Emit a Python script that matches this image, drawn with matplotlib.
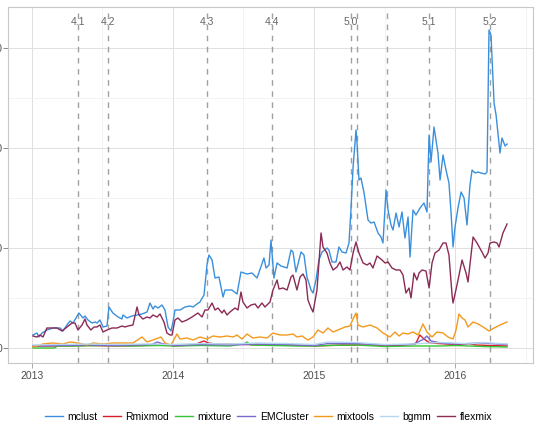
import numpy as np
import matplotlib
matplotlib.use("Agg")
import matplotlib.pyplot as plt
from matplotlib.ticker import MultipleLocator

plt.rcParams['font.family'] = ['Liberation Sans', 'DejaVu Sans']

BASE_YEAR = 2013

# ---- data (time = years since 2013-01-01, values = weekly downloads) ----
mclust_t = [0.007,0.035,0.050,0.071,0.106,0.149,0.199,0.220,0.248,0.270,0.291,0.333,0.362,0.376,0.397,0.426,0.447,0.461,0.482,0.504,
            0.532,0.546,0.574,0.610,0.638,0.645,0.674,0.709,0.745,0.780,0.816,0.837,0.858,0.872,0.894,0.922,0.943,0.965,0.986,1.000,
            1.014,1.050,1.085,1.121,1.142,1.170,1.191,1.220,1.241,1.255,1.277,1.298,1.326,1.355,1.369,1.418,1.454,1.482,1.525,1.560,
            1.596,1.645,1.660,1.681,1.695,1.716,1.738,1.766,1.809,1.837,1.851,1.872,1.908,1.929,1.950,1.979,1.993,2.014,2.035,2.057,
            2.092,2.106,2.128,2.156,2.177,2.199,2.227,2.248,2.262,2.277,2.298,2.305,2.319,2.333,2.355,2.383,2.404,2.426,2.454,2.475,
            2.489,2.511,2.525,2.546,2.560,2.582,2.603,2.624,2.645,2.667,2.681,2.702,2.723,2.752,2.780,2.801,2.816,2.830,2.851,2.879,
            2.894,2.915,2.936,2.957,2.972,2.986,3.000,3.021,3.043,3.064,3.085,3.106,3.121,3.142,3.163,3.184,3.213,3.227,3.241,3.255,
            3.277,3.291,3.319,3.333,3.355,3.369]
mclust_v = [130,150,110,150,180,200,200,170,230,270,250,350,300,320,280,250,260,250,280,210,
            220,410,350,310,290,330,300,320,330,340,360,450,390,420,400,430,380,210,170,260,
            380,380,410,420,410,440,460,530,830,930,880,700,710,510,580,580,540,760,740,750,
            700,900,800,830,1080,700,850,820,800,980,960,760,960,930,710,580,550,680,880,960,
            1000,980,860,860,1010,960,950,1050,1380,1810,2180,2050,1680,1700,1550,1280,1250,1260,1150,1110,
            1050,1580,1380,1230,1180,1350,1210,1360,1100,1310,910,1380,1330,1400,1450,1360,2130,1860,2210,1950,
            1680,1930,1780,1650,1350,1010,1210,1400,1560,1500,1230,1630,1780,1750,1760,1750,1740,1760,3180,3130,
            2450,2330,1950,2100,2020,2040]

flexmix_t = [0.007,0.035,0.057,0.078,0.106,0.142,0.177,0.213,0.248,0.284,0.305,0.326,0.355,0.376,0.390,0.418,0.440,0.461,0.482,0.504,
             0.532,0.567,0.603,0.638,0.660,0.681,0.716,0.745,0.759,0.787,0.816,0.837,0.858,0.887,0.908,0.936,0.957,0.979,0.993,1.014,
             1.035,1.064,1.099,1.135,1.156,1.177,1.206,1.227,1.248,1.277,1.298,1.319,1.348,1.362,1.383,1.404,1.440,1.461,1.482,1.496,
             1.525,1.553,1.582,1.603,1.631,1.652,1.688,1.709,1.738,1.752,1.780,1.809,1.837,1.851,1.879,1.901,1.922,1.943,1.957,1.979,
             1.993,2.021,2.050,2.064,2.092,2.113,2.135,2.163,2.184,2.206,2.234,2.255,2.277,2.298,2.319,2.348,2.376,2.397,2.418,2.447,
             2.482,2.504,2.525,2.553,2.582,2.610,2.631,2.652,2.674,2.688,2.709,2.730,2.745,2.766,2.794,2.816,2.837,2.858,2.887,2.915,
             2.936,2.957,2.979,2.986,3.014,3.050,3.078,3.092,3.128,3.156,3.191,3.213,3.234,3.248,3.277,3.298,3.312,3.340,3.369]
flexmix_v = [120,110,130,110,200,200,200,170,210,250,250,180,230,290,230,180,210,210,230,160,
             180,200,200,220,210,220,230,410,330,290,310,300,330,310,340,260,150,130,130,280,
             300,260,280,310,330,350,310,380,380,450,380,400,350,380,330,360,400,380,560,460,
             400,430,440,400,450,410,460,580,680,590,600,580,710,730,580,710,740,680,480,400,
             360,580,1150,1010,950,850,780,810,860,780,810,780,950,1060,950,850,830,850,800,920,
             880,850,860,800,780,780,730,550,600,500,750,680,750,780,770,600,850,950,980,1050,
             1050,930,530,450,630,880,750,660,1110,1050,960,900,950,1050,1060,1050,1010,1150,1240]

mixtools_t = [0.007,0.078,0.149,0.220,0.270,0.326,0.390,0.433,0.504,0.574,0.645,0.716,0.780,0.816,0.858,0.915,0.943,0.986,1.028,1.050,
              1.099,1.142,1.191,1.241,1.284,1.333,1.383,1.426,1.454,1.489,1.525,1.567,1.617,1.667,1.709,1.759,1.809,1.851,1.879,1.915,
              1.957,1.993,2.028,2.064,2.099,2.135,2.170,2.220,2.255,2.277,2.298,2.312,2.348,2.397,2.447,2.489,2.539,2.574,2.603,2.631,
              2.667,2.702,2.738,2.773,2.801,2.837,2.872,2.915,2.950,2.986,3.007,3.028,3.050,3.071,3.092,3.128,3.163,3.199,3.241,3.277,
              3.319,3.369]
mixtools_v = [10,40,50,40,60,50,30,50,40,50,50,50,110,60,80,110,50,30,140,90,
              100,80,110,90,120,110,120,110,130,90,140,100,110,100,150,130,130,140,110,120,
              80,110,180,150,200,160,180,210,220,290,350,230,210,230,200,150,110,160,120,150,
              140,160,130,240,160,110,160,150,110,90,180,340,300,280,210,260,240,210,170,200,
              230,260]

rmixmod_t = [0.007,0.2,0.4,0.6,0.8,0.95,1.0,1.15,1.2,1.22,1.25,1.3,1.5,1.7,1.9,2.0,2.2,2.4,2.6,2.72,2.75,2.78,2.82,3.0,3.1,3.15,3.25,3.369]
rmixmod_v = [20,20,25,20,25,40,20,30,60,70,50,40,35,30,25,20,30,30,25,40,130,90,50,35,40,30,25,20]

mixture_t = [0.007,0.16,0.18,0.3,0.5,0.7,0.9,1.0,1.2,1.4,1.5,1.525,1.55,1.7,1.9,2.0,2.1,2.3,2.5,2.7,2.9,3.0,3.1,3.2,3.369]
mixture_v = [0,0,20,20,25,20,25,20,25,20,40,60,30,25,20,20,25,30,15,20,20,25,20,15,10]

emcluster_t = [0.007,0.2,0.4,0.6,0.85,0.89,0.93,1.0,1.2,1.4,1.6,1.8,2.0,2.1,2.3,2.5,2.7,2.78,2.80,2.83,2.9,3.0,3.1,3.2,3.3,3.369]
emcluster_v = [20,25,30,25,35,60,40,25,35,30,40,35,25,45,45,30,35,90,120,70,50,40,45,50,40,35]

bgmm_t = [0.007,0.2,0.4,0.6,0.8,1.0,1.2,1.4,1.6,1.8,2.0,2.1,2.3,2.5,2.7,2.9,3.0,3.1,3.2,3.369]
bgmm_v = [30,35,40,35,40,35,45,40,50,45,35,60,55,35,40,55,50,40,55,40]

package_names = ["mclust", "Rmixmod", "mixture", "EMCluster", "mixtools", "bgmm", "flexmix"]
package_colors = ["#3a8fdc", "#d91e2a", "#33c533", "#7a6ad0", "#f39a1e", "#b5d8f0", "#8b2a55"]

release_t = [0.326, 0.539, 1.241, 1.702, 2.262, 2.305, 2.518, 2.816, 3.248]
release_labels = ["4.1", "4.2", "4.3", "4.4", "5.0", "", "", "5.1", "5.2"]

year_ticks = [2013, 2014, 2015, 2016]
value_ticks = [0, 1000, 2000, 3000]

# ---- figure ----
W, H = 537, 441
fig = plt.figure(figsize=(W / 100, H / 100), dpi=100)
ax = fig.add_axes([8 / W, 1 - 363 / H, 525 / W, 356 / H])

series_t = [mclust_t, rmixmod_t, mixture_t, emcluster_t, mixtools_t, bgmm_t, flexmix_t]
series_v = [mclust_v, rmixmod_v, mixture_v, emcluster_v, mixtools_v, bgmm_v, flexmix_v]

for name, col, t, v in zip(package_names, package_colors, series_t, series_v):
    ax.plot(BASE_YEAR + np.array(t), v, color=col, lw=1.0, label=name, zorder=3)

label_y = 3260
for t, lab in zip(release_t, release_labels):
    ax.axvline(BASE_YEAR + t, color="#a0a0a0", lw=1.0, ls=(0, (4, 4)), zorder=2)
    if lab:
        ax.text(BASE_YEAR + t, label_y, lab, ha="center", va="center",
                fontsize=7.5, color="#666666", zorder=1)

ax.set_xlim(2012.830, 2016.553)
ax.set_ylim(-150, 3410)
ax.set_xticks(year_ticks)
ax.set_xticklabels([str(y) for y in year_ticks])
ax.set_yticks(value_ticks)
ax.set_yticklabels([str(v) for v in value_ticks])
ax.xaxis.set_minor_locator(MultipleLocator(0.5))
ax.yaxis.set_minor_locator(MultipleLocator(500))

ax.grid(True, which="major", color="#e0e0e0", lw=0.7)
ax.grid(True, which="minor", color="#efefef", lw=0.5)
ax.set_axisbelow(True)
ax.tick_params(axis="x", which="major", length=3.5, width=0.7, color="#a8a8a8",
               labelsize=7.5, labelcolor="#4d4d4d", pad=2)
ax.tick_params(axis="y", which="major", length=3.3, width=0.7, color="#8a8a8a",
               labelsize=7.5, labelcolor="#4d4d4d", pad=0.6)
ax.tick_params(axis="both", which="minor", length=0)
for s in ax.spines.values():
    s.set_color("#c8c8c8")
    s.set_linewidth(0.8)

fig.legend(loc="center", bbox_to_anchor=(0.5, 1 - 417 / H), ncol=7, frameon=False,
           fontsize=7.5, handlelength=1.7, handletextpad=0.45, columnspacing=0.55)

fig.savefig("out.png", dpi=100)
